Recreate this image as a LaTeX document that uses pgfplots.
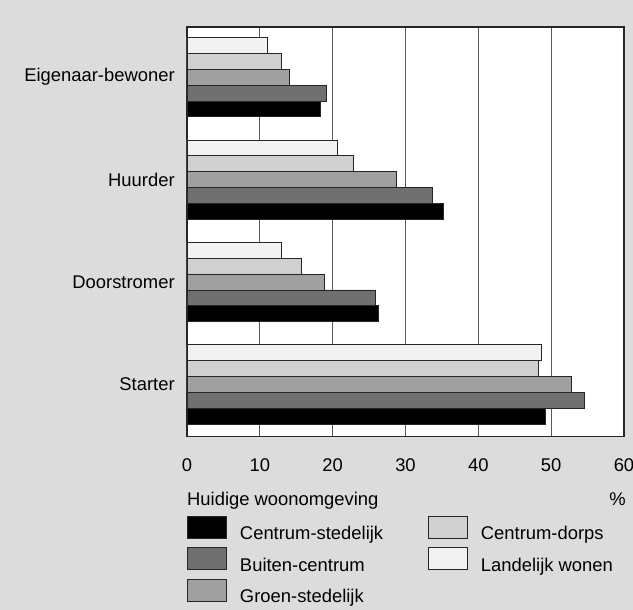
\documentclass[border=0pt]{standalone}
\usepackage{fontspec}
\setmainfont{Liberation Sans}
\usepackage{pgfplots}
\pgfplotsset{compat=1.18}
\definecolor{bg}{HTML}{DCDCDC}
\definecolor{cs}{HTML}{000000}
\definecolor{bc}{HTML}{707070}
\definecolor{gs}{HTML}{A0A0A0}
\definecolor{cd}{HTML}{D0D0D0}
\definecolor{lw}{HTML}{F2F2F2}
\begin{document}
\fontsize{18.4}{22}\selectfont
\begin{tikzpicture}[font=\fontsize{18.4}{22}\selectfont]
\useasboundingbox (0,0) rectangle (633pt,610pt);
\fill[bg] (0,0) rectangle (633pt,610pt);
\begin{axis}[
  at={(187pt,173.3pt)}, anchor=south west,
  scale only axis, width=437pt, height=409.7pt,
  clip=false,
  xbar, bar width=0.155,
  xmin=0, xmax=60, ymin=-0.51, ymax=3.49,
  xtick={0,10,...,60},
  ytick={0,1,2,3},
  yticklabels={Starter,Doorstromer,Huurder,Eigenaar-bewoner},
  major tick length=0pt,
  xmajorgrids, grid style={draw=black!65, line width=0.9pt},
  axis line style={line width=1.2pt, draw=black!85},
  axis background/.style={fill=white},
  /pgf/number format/assume math mode=true,
  tick label style={font=\fontsize{18.4}{22}\selectfont},
  xticklabel style={yshift=-15.5pt},
  yticklabel style={xshift=-6pt},
  legend image code/.code={\draw[#1] (0pt,-4pt) rectangle (39pt,18pt);},
  legend columns=2,
  legend cell align=left,
  legend style={at={(0,0)}, anchor=north west, yshift=-79pt, draw=none, fill=none,
    inner sep=0pt, row sep=3pt, font=\fontsize{18.4}{22}\selectfont,
    /tikz/every odd column/.append style={column sep=11pt},
    /tikz/every even column/.append style={column sep=43pt}},
  every axis plot/.append style={draw=black!85, line width=0.8pt},
]
\addplot[fill=cs, bar shift=-0.31] coordinates {(49.2,0) (26.3,1) (35.2,2) (18.3,3)};
\addlegendentry{Centrum-stedelijk}
\addplot[fill=cd, bar shift=0.155] coordinates {(48.2,0) (15.7,1) (22.8,2) (12.9,3)};
\addlegendentry{Centrum-dorps}
\addplot[fill=bc, bar shift=-0.155] coordinates {(54.5,0) (25.9,1) (33.7,2) (19.1,3)};
\addlegendentry{Buiten-centrum}
\addplot[fill=lw, bar shift=0.31] coordinates {(48.6,0) (12.9,1) (20.6,2) (11.1,3)};
\addlegendentry{Landelijk wonen}
\addplot[fill=gs, bar shift=0] coordinates {(52.8,0) (18.9,1) (28.7,2) (14.0,3)};
\addlegendentry{Groen-stedelijk}
\node[anchor=base west, inner sep=0pt, yshift=-68.5pt] at (rel axis cs:0,0) {Huidige woonomgeving};
\node[anchor=base east, inner sep=0pt, yshift=-68.5pt, xshift=2pt] at (rel axis cs:1,0) {\%};
\end{axis}
\end{tikzpicture}
\end{document}
